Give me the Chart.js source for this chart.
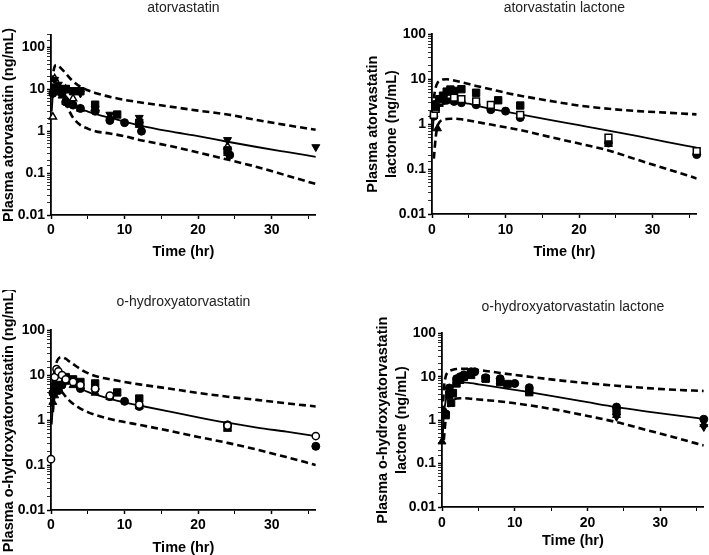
<!DOCTYPE html>
<html><head><meta charset="utf-8">
<script src="https://cdn.jsdelivr.net/npm/chart.js@4/dist/chart.umd.min.js"></script>
<style>
html,body{margin:0;padding:0;width:709px;height:555px;overflow:hidden;background:#fff}
canvas{position:absolute}
</style></head><body>
<canvas id="c1"></canvas><canvas id="c2"></canvas><canvas id="c3"></canvas><canvas id="c4"></canvas>
<script>
// ---------- shared ticks ----------
const yTickValues = [0.01, 0.1, 1, 10, 100];
const yTickText = ['0.01', '0.1', '1', '10', '100'];
const xTickValues = [0, 10, 20, 30];

// ---------- model prediction time grid (hr) ----------
const predTime = [0.1, 0.25, 0.5, 0.75, 1, 1.5, 2, 2.5, 3, 4, 5, 6, 8, 10, 12, 16, 20, 24, 28, 32, 36];

// ---------- panel 1: atorvastatin ----------
const ator_median = [3, 7, 10.5, 11.5, 11, 9, 7, 5.5, 4.3, 3.4, 2.95, 2.6, 2.1, 1.7, 1.38, 1.0, 0.76, 0.56, 0.42, 0.32, 0.245];
const ator_p95 = [8, 20, 35, 38, 36, 30, 24, 19, 15.5, 11.5, 9.5, 8.2, 6.6, 5.6, 4.9, 3.9, 3.1, 2.5, 1.85, 1.4, 1.08];
const ator_p5 = [null, null, null, null, 8, 7, 5, 3, 2.1, 1.4, 1.15, 1.0, 0.88, 0.76, 0.62, 0.45, 0.31, 0.21, 0.14, 0.088, 0.055];
const ator_circT = [0.25, 0.5, 1, 1.5, 2, 3, 4, 6, 8, 10, 12.3, 24.3];
const ator_circ = [8, 10, 9, 8, 5, 4.2, 3.5, 3.0, 1.8, 1.6, 1.0, 0.27];
const ator_sqT = [0.5, 1, 2, 3, 4, 6, 9, 12, 24];
const ator_sq = [11, 10, 10, 9, 9, 4.3, 2.5, 1.6, 0.35];
const ator_triT = [0.5, 1, 1.5, 2, 2.5, 4, 6, 8, 12, 24];
const ator_tri = [9, 12, 7, 5, 4.3, 3.4, 3.2, 2.2, 1.4, 0.3];
const ator_invT = [0.5, 1, 2, 3, 4, 6, 8, 12, 24, 36];
const ator_inv = [17, 13, 11, 9, 8, 3.5, 2.5, 2.1, 0.62, 0.42];
const ator_openTriT = [0.25, 0.5, 1, 2, 3, 6, 12, 24];
const ator_openTri = [2.2, 18, 11, 10, 6, 3.6, 1.8, 0.43];

// ---------- panel 2: atorvastatin lactone ----------
const lac_median = [0.7, 1.5, 2.3, 2.8, 3.2, 3.6, 3.7, 3.6, 3.45, 3.1, 2.85, 2.6, 2.2, 1.9, 1.65, 1.25, 0.95, 0.72, 0.54, 0.4, 0.3];
const lac_p95 = [1.2, 3.5, 6.5, 8.3, 9.2, 9.9, 10, 9.8, 9.4, 8.6, 7.8, 7.1, 6.0, 5.0, 4.3, 3.3, 2.6, 2.2, 1.95, 1.8, 1.65];
const lac_p5 = [null, 0.17, 0.5, 0.9, 1.1, 1.25, 1.3, 1.32, 1.32, 1.28, 1.2, 1.12, 0.98, 0.85, 0.74, 0.52, 0.37, 0.26, 0.16, 0.1, 0.062];
const lac_sqT = [0.5, 1, 1.5, 2, 2.5, 3, 4, 6, 9, 12];
const lac_sq = [2.4, 3.6, 4.3, 5.3, 5.9, 5.5, 6.0, 5.0, 3.4, 2.6];
const lac_openSqT = [0.25, 0.5, 1, 2, 2.5, 3, 4, 6, 8, 12, 24, 36];
const lac_openSq = [1.6, 2.2, 3.3, 4.2, 4.5, 3.9, 3.6, 3.2, 2.7, 1.6, 0.5, 0.25];
const lac_circT = [0.25, 0.5, 1, 1.5, 2, 3, 4, 6, 8, 10, 12, 24, 36];
const lac_circ = [1.5, 2.8, 3.0, 3.3, 3.4, 3.2, 3.0, 2.7, 2.1, 1.95, 1.4, 0.38, 0.21];
const lac_triT = [0.75, 1, 2, 3, 24];
const lac_tri = [0.8, 2.8, 4.0, 4.5, 0.36];

// ---------- panel 3: o-hydroxyatorvastatin ----------
const oh_median = [0.8, 2.0, 3.8, 5.2, 6.2, 7.3, 7.6, 7.1, 6.0, 5.0, 4.2, 3.7, 2.95, 2.45, 2.1, 1.55, 1.15, 0.87, 0.68, 0.55, 0.44];
const oh_p95 = [2, 6, 13, 19, 23, 25, 23, 20, 17.5, 13.5, 11, 9.5, 8, 7, 6.2, 5, 4.0, 3.3, 2.8, 2.35, 2.0];
const oh_p5 = [null, 1.5, 4.0, 5.5, 5.3, 4.2, 3.3, 2.7, 2.3, 1.8, 1.5, 1.3, 1.05, 0.9, 0.78, 0.58, 0.42, 0.31, 0.22, 0.15, 0.1];
const oh_openCircT = [0, 0.5, 0.75, 1, 1.5, 2, 3, 4, 6, 8, 12, 24, 36];
const oh_openCirc = [0.135, 9, 13.5, 12, 10, 8, 7, 6, 5, 3.5, 2.2, 0.75, 0.44];
const oh_circT = [0.25, 0.5, 1, 1.5, 2, 3, 4, 6, 8, 10, 12, 24, 36];
const oh_circ = [4, 5, 4.5, 6, 8, 7.5, 5, 4.8, 3.3, 2.6, 2.0, 0.78, 0.26];
const oh_sqT = [0.5, 1, 2, 3, 4, 6, 9, 12, 24];
const oh_sq = [5.5, 6, 9, 8, 7, 6.5, 4.1, 3.0, 0.7];
const oh_triT = [0.25, 0.5, 1, 2, 3, 4, 6, 8, 12, 24];
const oh_tri = [2.5, 3.5, 5, 7, 5.9, 5.5, 4, 3.2, 2.0, 0.63];

// ---------- panel 4: o-hydroxyatorvastatin lactone ----------
const ohl_median = [0.4, 1.3, 2.7, 4.0, 5.0, 6.4, 7.2, 7.4, 7.4, 7.1, 6.7, 6.3, 5.6, 5.0, 4.4, 3.4, 2.6, 2.0, 1.6, 1.3, 1.07];
const ohl_p95 = [1.5, 5, 10, 12.5, 13.5, 14.5, 15, 15.1, 15.2, 15, 14.3, 13.6, 12.2, 11, 10, 8.3, 7.1, 6.2, 5.5, 5.0, 4.7];
const ohl_p5 = [null, 0.35, 1.0, 1.8, 2.4, 3.0, 3.15, 3.2, 3.2, 3.1, 3.0, 2.9, 2.7, 2.45, 2.2, 1.7, 1.25, 0.9, 0.6, 0.4, 0.26];
const ohl_circT = [0.5, 1, 2, 2.5, 3, 4, 4.5, 6, 8, 10, 12, 24, 36];
const ohl_circ = [1.4, 5.5, 9, 10, 11, 13, 13, 9.5, 9, 7, 5.6, 2.0, 1.05];
const ohl_sqT = [0.5, 1, 1.25, 1.5, 2, 2.5, 3, 4, 6, 8, 9, 12, 24];
const ohl_sq = [1.3, 3.8, 2.5, 4.2, 7, 8.5, 10, 11, 9, 7.5, 6.8, 4.4, 1.6];
const ohl_triT = [0, 0.5, 1, 2, 3, 6, 8, 12, 24, 36];
const ohl_tri = [0.32, 1.5, 5, 8, 9.5, 8.8, 8, 4.8, 1.3, 0.8];
const ohl_invT = [24, 36];
const ohl_inv = [1.2, 0.7];

// ---------- helpers ----------
Chart.defaults.font.family = "'Liberation Sans', Arial, sans-serif";
Chart.defaults.color = '#000';
const pts = (xs, ys) => xs.map((x, i) => ({x: x, y: ys[i]}));
const isMajorY = v => yTickValues.some(t => Math.abs(t - v) < t * 1e-6);
const yLabel = v => { const i = yTickValues.findIndex(t => Math.abs(t - v) < t * 1e-6); return i >= 0 ? yTickText[i] : ''; };

function lineSet(ys, dashed) {
  return {type: 'line', data: pts(predTime, ys), borderColor: '#000', borderWidth: dashed ? 2.6 : 1.8,
    borderDash: dashed ? [7, 4] : [], pointRadius: 0, fill: false, cubicInterpolationMode: 'monotone',
    spanGaps: true, order: 2};
}
function markSet(xs, ys, style, open, rot) {
  const r = style === 'rect' ? 5.2 : (style === 'triangle' ? 4.6 : 4);
  return {type: 'scatter', data: pts(xs, ys), pointStyle: style, rotation: rot || 0,
    pointRadius: open ? r - 0.4 : r, borderWidth: open ? 1.5 : 1,
    backgroundColor: open ? '#fff' : '#000', borderColor: '#000', clip: false, order: 1};
}

function makeChart(id, L) {
  const c = document.getElementById(id);
  c.width = L.w; c.height = L.h;
  c.style.left = L.left + 'px'; c.style.top = L.top + 'px';
  new Chart(c, {
    data: {datasets: L.datasets},
    options: {
      responsive: false, animation: false, devicePixelRatio: 1,
      layout: {padding: 0},
      plugins: {
        legend: {display: false}, tooltip: {enabled: false},
        title: {display: true, text: L.title, fullSize: false, color: '#222',
          font: {size: 14, weight: 'normal', lineHeight: 1.2}, padding: {top: L.tp1, bottom: L.tp2}}
      },
      scales: {
        x: {type: 'linear', min: 0, max: 36,
          afterFit: s => { s.height = L.xH; },
          ticks: {stepSize: 5, includeBounds: false, autoSkip: false, maxRotation: 0, padding: L.xPad,
            font: {size: 14, weight: 'bold', lineHeight: 1.2}, color: '#000',
            callback: v => xTickValues.includes(v) ? String(v) : ''},
          grid: {drawOnChartArea: false, drawTicks: true, tickLength: 4, tickColor: '#000',
            tickWidth: ctx => (ctx.tick && xTickValues.includes(ctx.tick.value)) ? 1.5 : 1},
          border: {display: true, color: '#000', width: 1.8},
          title: {display: true, text: 'Time (hr)', padding: 0, color: '#000',
            font: {size: 14.5, weight: 'bold', lineHeight: 1.2}}
        },
        y: {type: 'logarithmic', min: 0.01, max: L.yMax,
          afterFit: s => { s.width = L.yW; },
          ticks: {autoSkip: false, padding: 2, font: {size: 14, weight: 'bold', lineHeight: 1.2}, color: '#000',
            callback: v => yLabel(v)},
          grid: {drawOnChartArea: false, drawTicks: true, tickLength: 4, tickColor: '#000',
            tickWidth: ctx => (ctx.tick && isMajorY(ctx.tick.value)) ? 1.5 : 0.8},
          border: {display: true, color: '#000', width: 1.8},
          title: {display: true, text: L.yTitle, padding: 0, color: '#000',
            font: {size: 14.5, weight: 'bold', lineHeight: 1.3}}
        }
      }
    }
  });
}

makeChart('c1', {left: 0, top: -1, w: 322, h: 262, yW: 51, xH: 46, xPad: 3, tp1: 1, tp2: 18, yMax: 200,
  title: 'atorvastatin', yTitle: 'Plasma atorvastatin (ng/mL)',
  datasets: [
    markSet(ator_circT, ator_circ, 'circle', false),
    markSet(ator_sqT, ator_sq, 'rect', false),
    markSet(ator_triT, ator_tri, 'triangle', false),
    markSet(ator_invT, ator_inv, 'triangle', false, 180),
    markSet(ator_openTriT, ator_openTri, 'triangle', true),
    lineSet(ator_median, false), lineSet(ator_p95, true), lineSet(ator_p5, true)
  ]});

makeChart('c2', {left: 364, top: -1, w: 339, h: 262, yW: 68, xH: 47, xPad: 4, tp1: 1, tp2: 17.5, yMax: 100,
  title: 'atorvastatin lactone', yTitle: ['Plasma atorvastatin', 'lactone (ng/mL)'],
  datasets: [
    markSet(lac_sqT, lac_sq, 'rect', false),
    markSet(lac_openSqT, lac_openSq, 'rect', true),
    markSet(lac_circT, lac_circ, 'circle', false),
    markSet(lac_triT, lac_tri, 'triangle', false),
    lineSet(lac_median, false), lineSet(lac_p95, true), lineSet(lac_p5, true)
  ]});

makeChart('c3', {left: 0, top: 290, w: 322, h: 267, yW: 51, xH: 47, xPad: 3, tp1: 3.3, tp2: 19.9, yMax: 100,
  title: 'o-hydroxyatorvastatin', yTitle: 'Plasma o-hydroxyatorvastatin (ng/mL)',
  datasets: [
    markSet(oh_openCircT, oh_openCirc, 'circle', true),
    markSet(oh_circT, oh_circ, 'circle', false),
    markSet(oh_sqT, oh_sq, 'rect', false),
    markSet(oh_triT, oh_tri, 'triangle', false),
    lineSet(oh_median, false), lineSet(oh_p95, true), lineSet(oh_p5, true)
  ]});

makeChart('c4', {left: 374, top: 295, w: 336, h: 255, yW: 68, xH: 43, xPad: 4, tp1: 3.3, tp2: 18.2, yMax: 100,
  title: 'o-hydroxyatorvastatin lactone', yTitle: ['Plasma o-hydroxyatorvastatin', 'lactone (ng/mL)'],
  datasets: [
    markSet(ohl_circT, ohl_circ, 'circle', false),
    markSet(ohl_sqT, ohl_sq, 'rect', false),
    markSet(ohl_triT, ohl_tri, 'triangle', false),
    markSet(ohl_invT, ohl_inv, 'triangle', false, 180),
    lineSet(ohl_median, false), lineSet(ohl_p95, true), lineSet(ohl_p5, true)
  ]});
</script>
</body></html>
